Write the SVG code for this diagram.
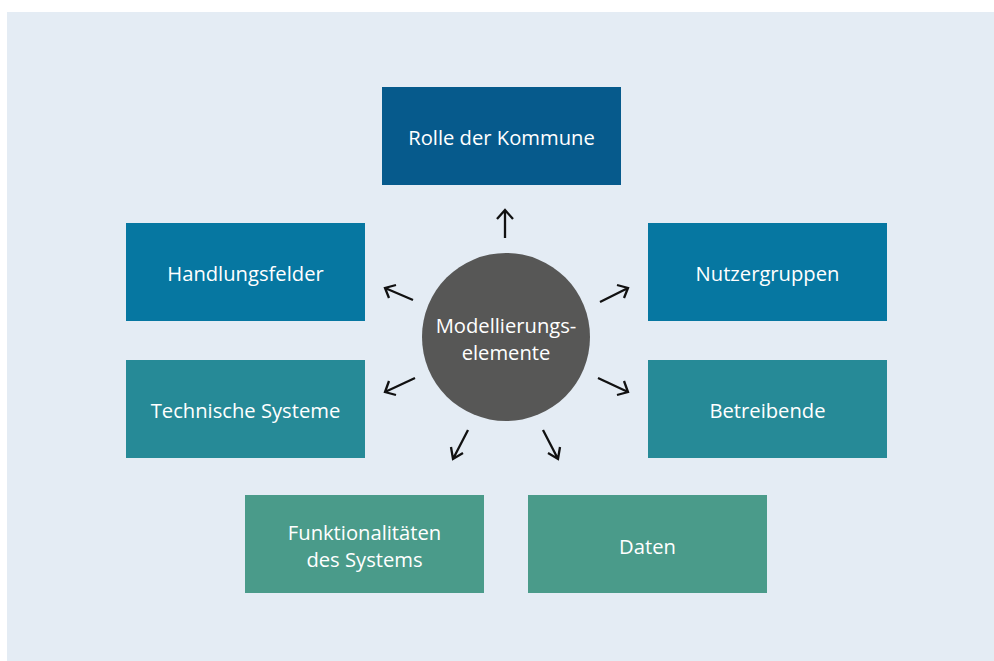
<svg xmlns="http://www.w3.org/2000/svg" width="994" height="661" viewBox="0 0 994 661">
<style>
.lbl{font-family:"Open Sans","Noto Sans","Liberation Sans",sans-serif;font-size:20.2px;fill:#ffffff;text-anchor:middle;dominant-baseline:central}
.arr{fill:none;stroke:#111111;stroke-width:2.3;stroke-linecap:butt;stroke-linejoin:miter}
</style>
<rect x="0" y="0" width="994" height="661" fill="#ffffff"/>
<rect x="7" y="12" width="987" height="649" fill="#e4ecf4"/>
<g id="rolle"><rect x="382" y="87" width="239" height="98" fill="#065a8c"/><text class="lbl" x="501.5" y="137">Rolle der Kommune</text></g>
<g id="handlungsfelder"><rect x="126" y="223" width="239" height="98" fill="#0677a1"/><text class="lbl" x="245.5" y="273">Handlungsfelder</text></g>
<g id="nutzergruppen"><rect x="648" y="223" width="239" height="98" fill="#0677a1"/><text class="lbl" x="767.5" y="273">Nutzergruppen</text></g>
<g id="technische"><rect x="126" y="360" width="239" height="98" fill="#268a97"/><text class="lbl" x="245.5" y="410">Technische Systeme</text></g>
<g id="betreibende"><rect x="648" y="360" width="239" height="98" fill="#268a97"/><text class="lbl" x="767.5" y="410">Betreibende</text></g>
<g id="funktionalitaeten"><rect x="245" y="495" width="239" height="98" fill="#4a9b8a"/><text class="lbl" x="364.5" y="532">Funktionalitäten</text><text class="lbl" x="364.5" y="559">des Systems</text></g>
<g id="daten"><rect x="528" y="495" width="239" height="98" fill="#4a9b8a"/><text class="lbl" x="647.5" y="546">Daten</text></g>
<g id="center"><circle cx="506" cy="337" r="84" fill="#575756"/><text class="lbl" x="506" y="325">Modellierungs-</text><text class="lbl" x="506" y="352">elemente</text></g>
<g id="connectors">
<path class="arr" d="M505,238 L505,210 M497,219 L505,210 L513,219"/>
<path class="arr" d="M600,302 L628,288 M617,285 L628,288 L624,298"/>
<path class="arr" d="M598,378 L628,392 M624,381 L628,392 L617,395"/>
<path class="arr" d="M413,300 L385,288 M389,298 L385,288 L396,285"/>
<path class="arr" d="M415,378 L385,392 M396,395 L385,392 L389,381"/>
<path class="arr" d="M468,430 L453,459 M451,447 L453,459 L463,453"/>
<path class="arr" d="M543,430 L558,459 M548,453 L558,459 L560,447"/>
</g>
</svg>
